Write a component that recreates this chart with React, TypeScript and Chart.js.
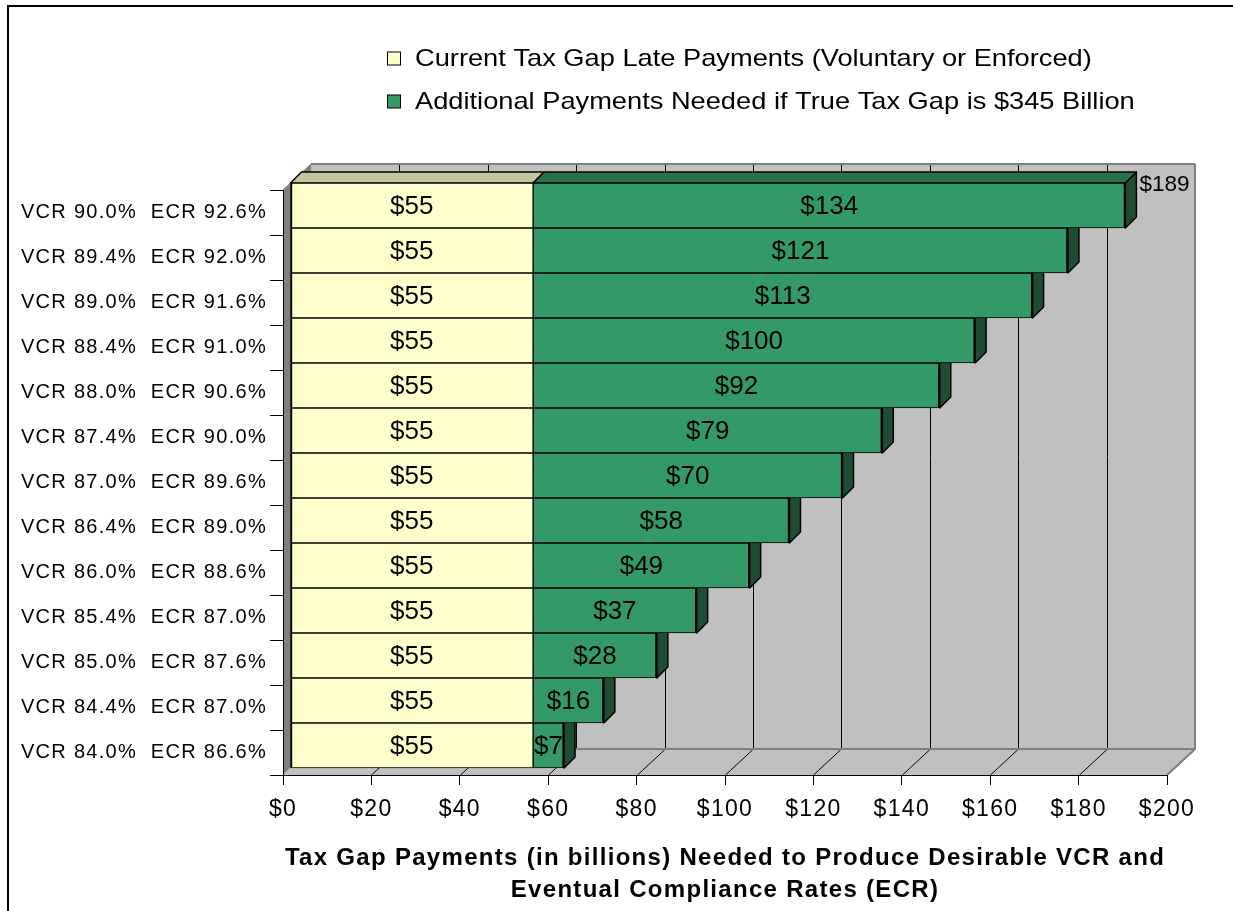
import React, { useEffect, useRef } from 'react';
import { Chart, registerables } from 'chart.js';

Chart.register(...registerables);

// ---------- data ----------
const categories = [
  'VCR 90.0%  ECR 92.6%',
  'VCR 89.4%  ECR 92.0%',
  'VCR 89.0%  ECR 91.6%',
  'VCR 88.4%  ECR 91.0%',
  'VCR 88.0%  ECR 90.6%',
  'VCR 87.4%  ECR 90.0%',
  'VCR 87.0%  ECR 89.6%',
  'VCR 86.4%  ECR 89.0%',
  'VCR 86.0%  ECR 88.6%',
  'VCR 85.4%  ECR 87.0%',
  'VCR 85.0%  ECR 87.6%',
  'VCR 84.4%  ECR 87.0%',
  'VCR 84.0%  ECR 86.6%',
];
const currentPayments = [55, 55, 55, 55, 55, 55, 55, 55, 55, 55, 55, 55, 55];
const additionalPayments = [134, 121, 113, 100, 92, 79, 70, 58, 49, 37, 28, 16, 7];
const xTickLabels = ['$0', '$20', '$40', '$60', '$80', '$100', '$120', '$140', '$160', '$180', '$200'];
const seriesNames = [
  'Current Tax Gap Late Payments (Voluntary or Enforced)',
  'Additional Payments Needed if True Tax Gap is $345 Billion',
];
const axisTitle = [
  'Tax Gap Payments (in billions) Needed to Produce Desirable VCR and',
  'Eventual Compliance Rates (ECR)',
];
const totalLabelCategory = 0;

// ---------- style ----------
const FONT = 'Arial, "Liberation Sans", Helvetica, sans-serif';
const YELLOW = '#FFFFCC';
const GREEN = '#339966';
const YELLOW_TOP = '#C4C49E';
const GREEN_TOP = '#27704A';
const GREEN_SIDE = '#1E4D33';
const DX = 7; // bar front offset from front plane
const DY = 7;
const DEPTH = 11; // bar depth
const BOX_X = 28; // box depth
const BOX_Y = 26;

function poly(ctx: CanvasRenderingContext2D, pts: number[][], fill: string, stroke?: string, lw = 1) {
  ctx.beginPath();
  ctx.moveTo(pts[0][0], pts[0][1]);
  for (let i = 1; i < pts.length; i++) ctx.lineTo(pts[i][0], pts[i][1]);
  ctx.closePath();
  ctx.fillStyle = fill;
  ctx.fill();
  if (stroke) {
    ctx.strokeStyle = stroke;
    ctx.lineWidth = lw;
    ctx.stroke();
  }
}

function line(ctx: CanvasRenderingContext2D, x1: number, y1: number, x2: number, y2: number, color: string, lw: number) {
  ctx.beginPath();
  ctx.moveTo(x1, y1);
  ctx.lineTo(x2, y2);
  ctx.strokeStyle = color;
  ctx.lineWidth = lw;
  ctx.stroke();
}

const box3d = {
  id: 'box3d',
  beforeDraw(chart: any) {
    const { ctx, chartArea: a } = chart;
    const xs = chart.scales.x;
    const L = a.left, R = a.right, T = a.top, B = a.bottom;
    ctx.save();
    // outer frame
    ctx.fillStyle = '#000';
    ctx.fillRect(7, 5, chart.width - 7, 2);
    ctx.fillRect(7, 5, 2, chart.height - 5);
    // back wall
    ctx.fillStyle = '#C0C0C0';
    ctx.fillRect(L + BOX_X, T - BOX_Y, R - L, B - T);
    // left wall
    poly(ctx, [[L, T], [L + BOX_X, T - BOX_Y], [L + BOX_X, B - BOX_Y], [L, B]], '#808080');
    // floor
    poly(ctx, [[L, B], [L + BOX_X, B - BOX_Y], [R + BOX_X, B - BOX_Y], [R, B]], '#C0C0C0');
    // grid lines
    xs.ticks.forEach((t: any) => {
      const px = Math.round(xs.getPixelForValue(t.value)) + 0.5;
      if (t.value > xs.min && t.value < xs.max) {
        line(ctx, px + BOX_X, T - BOX_Y, px + BOX_X, B - BOX_Y, '#000', 1);
      }
      if (t.value > xs.min) {
        line(ctx, px, B, px + BOX_X, B - BOX_Y, '#000', 1);
      }
    });
    // edges
    line(ctx, L + BOX_X, T - BOX_Y, R + BOX_X, T - BOX_Y, '#808080', 2);
    line(ctx, R + BOX_X, T - BOX_Y, R + BOX_X, B - BOX_Y, '#808080', 2);
    line(ctx, L + BOX_X, B - BOX_Y, R + BOX_X, B - BOX_Y, '#808080', 2);
    line(ctx, R + BOX_X, B - BOX_Y, R, B, '#808080', 2);
    line(ctx, L, T, L + BOX_X, T - BOX_Y, '#808080', 1);
    ctx.restore();
    // the reference text is rendered slightly wider; widen axis text a little
    (ctx as any).letterSpacing = '1.3px';
  },
};

const bars3d = {
  id: 'bars3d',
  beforeDatasetsDraw(chart: any) {
    const ctx = chart.ctx;
    (ctx as any).letterSpacing = '0px';
    const m0 = chart.getDatasetMeta(0);
    const m1 = chart.getDatasetMeta(1);
    ctx.save();
    ctx.lineJoin = 'round';
    const n = m0.data.length;
    for (let j = n - 1; j >= 0; j--) {
      const b0 = m0.data[j];
      const b1 = m1.data[j];
      const yt = b0.y - b0.height / 2 - DY;
      const yb = b0.y + b0.height / 2 - DY;
      const xl = b0.base + DX;
      const xm = b0.x + DX;
      const xr = b1.x + DX;
      poly(ctx, [[xr, yt], [xr + DEPTH, yt - DEPTH], [xr + DEPTH, yb - DEPTH], [xr, yb]], GREEN_SIDE, '#000', 1.5);
      if (j === 0) {
        poly(ctx, [[xl, yt], [xl + DEPTH, yt - DEPTH], [xm + DEPTH, yt - DEPTH], [xm, yt]], YELLOW_TOP, '#000', 1.5);
        poly(ctx, [[xm, yt], [xm + DEPTH, yt - DEPTH], [xr + DEPTH, yt - DEPTH], [xr, yt]], GREEN_TOP, '#000', 1.5);
      }
    }
    ctx.restore();
    ctx.save();
    ctx.translate(DX, -DY);
  },
  afterDatasetsDraw(chart: any) {
    const ctx = chart.ctx;
    ctx.restore();
    ctx.save();
    ctx.fillStyle = '#000';
    ctx.textAlign = 'center';
    ctx.textBaseline = 'middle';
    ctx.font = `26px ${FONT}`;
    [0, 1].forEach((d) => {
      const meta = chart.getDatasetMeta(d);
      const values = chart.data.datasets[d].data as number[];
      meta.data.forEach((b: any, j: number) => {
        const cx = (b.base + b.x) / 2 + DX;
        const cy = b.y - DY + 1;
        ctx.fillText('$' + values[j], cx, cy);
      });
    });
    // total label for the top bar
    const b1 = chart.getDatasetMeta(1).data[totalLabelCategory];
    const total = currentPayments[totalLabelCategory] + additionalPayments[totalLabelCategory];
    ctx.font = `22.5px ${FONT}`;
    ctx.textAlign = 'left';
    ctx.fillText('$' + total, b1.x + DX + DEPTH + 3, b1.y - b1.height / 2 - DY + 2);
    ctx.restore();
  },
  afterDraw(chart: any) {
    const ctx = chart.ctx;
    ctx.save();
    (ctx as any).letterSpacing = '0px';
    ctx.textBaseline = 'middle';
    ctx.textAlign = 'left';
    const ys = [58.5, 101.5];
    chart.data.datasets.forEach((ds: any, i: number) => {
      ctx.fillStyle = ds.backgroundColor;
      ctx.fillRect(387.5, ys[i] - 6.5, 13, 13);
      ctx.strokeStyle = '#000';
      ctx.lineWidth = 1;
      ctx.strokeRect(387.5, ys[i] - 6.5, 13, 13);
      ctx.save();
      ctx.translate(415, ys[i] + 1);
      ctx.scale(1.135, 1);
      ctx.font = `24px ${FONT}`;
      ctx.fillStyle = '#000';
      ctx.fillText(ds.label, 0, 0);
      ctx.restore();
    });
    ctx.restore();
  },
};

export default function App() {
  const ref = useRef<HTMLCanvasElement | null>(null);
  useEffect(() => {
    if (!ref.current) return;
    const chart = new Chart(ref.current, {
      type: 'bar',
      data: {
        labels: categories,
        datasets: [
          {
            label: seriesNames[0],
            data: currentPayments,
            backgroundColor: YELLOW,
            borderColor: '#000',
            borderWidth: { top: 1, bottom: 1, left: 2, right: 1 },
            borderSkipped: false,
            categoryPercentage: 1,
            barPercentage: 1,
            clip: false,
          } as any,
          {
            label: seriesNames[1],
            data: additionalPayments,
            backgroundColor: GREEN,
            borderColor: '#000',
            borderWidth: { top: 1, bottom: 1, left: 1, right: 2 },
            borderSkipped: false,
            categoryPercentage: 1,
            barPercentage: 1,
            clip: false,
          } as any,
        ],
      },
      options: {
        indexAxis: 'y',
        animation: false,
        responsive: false,
        maintainAspectRatio: false,
        devicePixelRatio: 1,
        layout: { padding: { left: 0, top: 190, right: 66, bottom: 0 } },
        plugins: {
          legend: { display: false },
          tooltip: { enabled: false },
        },
        scales: {
          x: {
            type: 'linear',
            stacked: true,
            min: 0,
            max: 200,
            afterFit: (s: any) => {
              s.height = 136;
            },
            ticks: {
              stepSize: 20,
              autoSkip: false,
              maxRotation: 0,
              padding: 11,
              color: '#000',
              font: { family: FONT, size: 23 },
              callback: (_v: any, i: number) => xTickLabels[i],
            },
            grid: {
              drawOnChartArea: false,
              drawTicks: true,
              tickLength: 10,
              color: '#000',
            },
            border: { display: true, color: '#000', width: 1 },
            title: {
              display: true,
              text: axisTitle,
              color: '#000',
              font: { family: FONT, size: 24, weight: 'bold', lineHeight: '32px' },
              padding: { top: 0, bottom: 5 },
            },
          },
          y: {
            type: 'category',
            stacked: true,
            offset: true,
            afterFit: (s: any) => {
              s.width = 283;
            },
            ticks: {
              autoSkip: false,
              padding: 3,
              color: '#000',
              font: { family: FONT, size: 20 },
            },
            grid: {
              offset: true,
              drawOnChartArea: false,
              drawTicks: true,
              tickLength: 13,
              color: '#000',
            },
            border: { display: true, color: '#000', width: 1 },
          },
        },
      } as any,
      plugins: [box3d, bars3d],
    });
    return () => chart.destroy();
  }, []);
  return (
    <canvas
      ref={ref}
      width={1233}
      height={911}
      style={{ position: 'absolute', left: 0, top: 0, display: 'block', background: '#fff' }}
    />
  );
}
